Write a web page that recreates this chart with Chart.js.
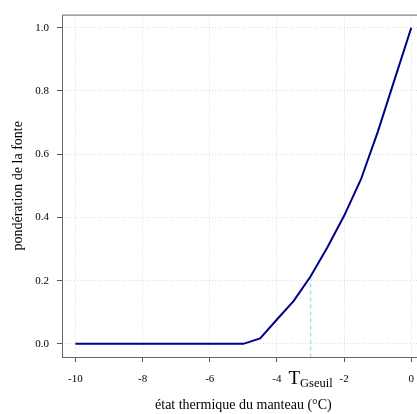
<!DOCTYPE html>
<html>
<head>
<meta charset="utf-8">
<script src="https://cdn.jsdelivr.net/npm/chart.js@4/dist/chart.umd.min.js"></script>
<style>
    html, body { margin: 0; padding: 0; background: #fff; overflow: hidden; }
    #wrap { width: 417px; height: 414px; overflow: hidden; }
</style>
</head>
<body>
<div id="wrap"><canvas id="fonteChart" width="430" height="414"></canvas></div>
<script>
// Data
const temps = [-10, -5, -4.5, -4, -3.5, -3, -2.5, -2, -1.5, -1, -0.5, 0];
const weights = [0, 0, 0.017, 0.077, 0.136, 0.213, 0.305, 0.405, 0.52, 0.67, 0.835, 1.0];
const xTicks = [-10, -8, -6, -4, -2, 0];
const yTicks = [0, 0.2, 0.4, 0.6, 0.8, 1.0];
const tSeuil = -3;
const tSeuilWeight = 0.213;

const serif = "'Liberation Serif', 'DejaVu Serif', serif";
const X_MIN = -10.4, X_MAX = 0.4;
const Y_MIN = -0.0416, Y_MAX = 1.0416;

// Frame + threshold label
const framePlugin = {
    id: 'frame',
    beforeDatasetsDraw(chart) {
        const { ctx, chartArea } = chart;
        ctx.save();
        ctx.strokeStyle = '#666';
        ctx.lineWidth = 1;
        ctx.strokeRect(chartArea.left + 0.5, chartArea.top + 0.5,
            chartArea.right - chartArea.left, chartArea.bottom - chartArea.top);
        ctx.restore();
    },
    afterDraw(chart) {
        const { ctx } = chart;
        const x = chart.scales.x.getPixelForValue(tSeuil);
        ctx.save();
        ctx.fillStyle = '#000';
        ctx.textBaseline = 'alphabetic';
        ctx.font = '19px ' + serif;
        const wT = ctx.measureText('T').width;
        ctx.font = '12.5px ' + serif;
        const wS = ctx.measureText('Gseuil').width;
        const x0 = x - (wT + wS) / 2;
        ctx.font = '19px ' + serif;
        ctx.fillText('T', x0, 384);
        ctx.font = '12.5px ' + serif;
        ctx.fillText('Gseuil', x0 + wT, 387);
        ctx.restore();
    }
};

new Chart(document.getElementById('fonteChart'), {
    type: 'line',
    data: {
        datasets: [{
            label: 'pondération',
            data: temps.map((t, i) => ({ x: t, y: weights[i] })),
            borderColor: '#00008b',
            borderWidth: 2,
            pointRadius: 0,
            tension: 0,
            fill: false,
            order: 1
        }, {
            label: 'seuil',
            data: [{ x: tSeuil, y: tSeuilWeight }, { x: tSeuil, y: Y_MIN }],
            borderColor: '#8ee8ee',
            borderWidth: 1.5,
            borderDash: [4, 3],
            pointRadius: 0,
            fill: false,
            order: 2
        }]
    },
    options: {
        responsive: false,
        animation: false,
        layout: { padding: { left: 0, right: 5.3, top: 8, bottom: 0 } },
        plugins: {
            legend: { display: false },
            tooltip: { enabled: false }
        },
        scales: {
            x: {
                type: 'linear',
                min: X_MIN,
                max: X_MAX,
                afterBuildTicks: s => { s.ticks = xTicks.map(v => ({ value: v })); },
                afterFit: s => { s.height = 57; },
                grid: {
                    color: '#dadada',
                    lineWidth: 1,
                    tickColor: '#555',
                    tickLength: 5,
                    tickBorderDash: []
                },
                border: { display: false, dash: [1, 2] },
                ticks: {
                    color: '#000',
                    font: { family: serif, size: 11 },
                    padding: 11,
                    maxRotation: 0,
                    callback: v => String(v)
                },
                title: {
                    display: true,
                    text: 'état thermique du manteau (°C)',
                    color: '#000',
                    font: { family: serif, size: 14 },
                    padding: { top: 0, bottom: 0 }
                }
            },
            y: {
                type: 'linear',
                min: Y_MIN,
                max: Y_MAX,
                afterBuildTicks: s => { s.ticks = yTicks.map(v => ({ value: v })); },
                afterFit: s => { s.width = 62; },
                grid: {
                    color: '#dadada',
                    lineWidth: 1,
                    tickColor: '#555',
                    tickLength: 5,
                    tickBorderDash: []
                },
                border: { display: false, dash: [1, 2] },
                ticks: {
                    color: '#000',
                    font: { family: serif, size: 11 },
                    padding: 8,
                    callback: v => v.toFixed(1)
                },
                title: {
                    display: true,
                    text: 'pondération de la fonte',
                    color: '#000',
                    font: { family: serif, size: 14 },
                    padding: { top: 10, bottom: 0 }
                }
            }
        }
    },
    plugins: [framePlugin]
});
</script>
</body>
</html>
